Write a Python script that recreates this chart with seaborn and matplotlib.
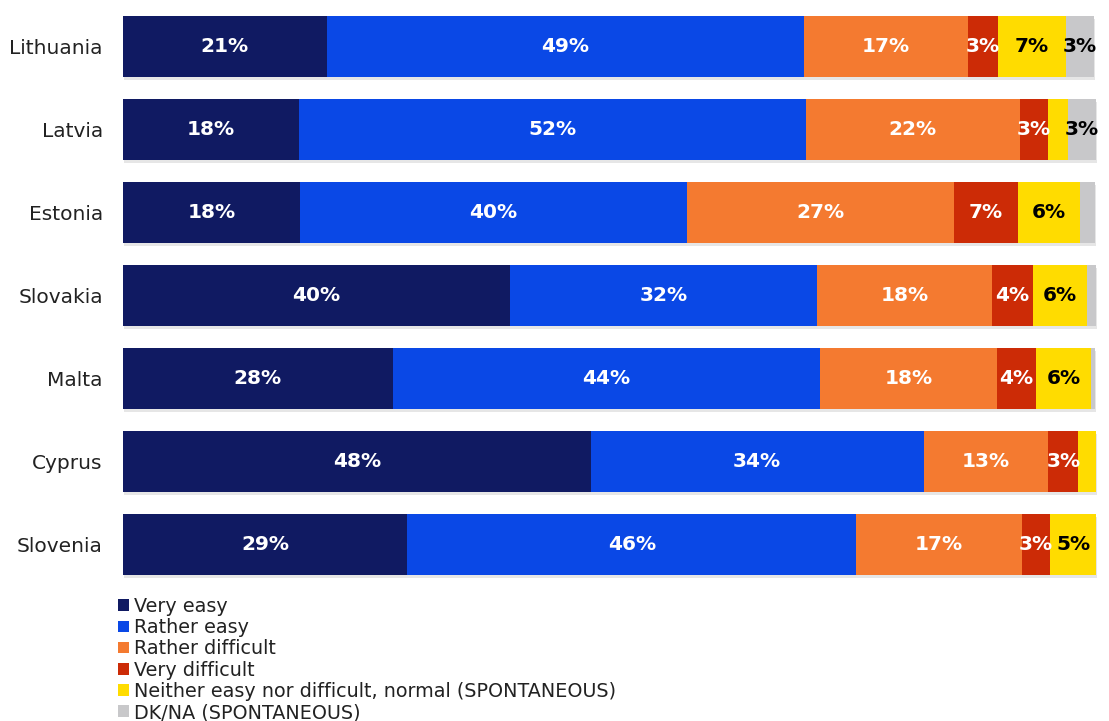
import numpy as np
import pandas as pd
import matplotlib
matplotlib.use("Agg")
import matplotlib.pyplot as plt
import matplotlib.patheffects as pe
from matplotlib.patches import Patch
import seaborn as sns

countries = ["Lithuania", "Latvia", "Estonia", "Slovakia", "Malta", "Cyprus", "Slovenia"]
categories = [
    "Very easy",
    "Rather easy",
    "Rather difficult",
    "Very difficult",
    "Neither easy nor difficult, normal (SPONTANEOUS)",
    "DK/NA (SPONTANEOUS)",
]
very_easy        = [20.9, 18.1, 18.2, 39.7, 27.7, 48.0, 29.2]
rather_easy      = [49.0, 52.0, 39.7, 31.6, 43.9, 34.2, 46.1]
rather_difficult = [16.9, 22.0, 27.4, 17.9, 18.1, 12.8, 17.0]
very_difficult   = [3.0, 2.9, 6.6, 4.2, 4.0, 3.1, 2.9]
neither          = [7.0, 2.0, 6.4, 5.6, 5.7, 1.8, 4.7]
dk_na            = [2.9, 2.9, 1.5, 0.9, 0.4, 0.0, 0.0]

colors = ["#101A62", "#0A48E6", "#F47A30", "#CC2B06", "#FFDC00", "#C8C8CA"]
label_colors = ["white", "white", "white", "white", "black", "black"]

series = [very_easy, rather_easy, rather_difficult, very_difficult, neither, dk_na]
df = pd.DataFrame({c: s for c, s in zip(categories, series)}, index=countries)
cum = df.cumsum(axis=1)

sns.set_theme(style="white")
plt.rcParams["font.family"] = ["DejaVu Sans"]

fig = plt.figure(figsize=(11.09, 7.21), dpi=100)
ax = fig.add_axes([123 / 1109, 135 / 721, 974 / 1109, 581 / 721])

bar_w = 0.735
# stacked bars: draw cumulative totals from the outermost layer inward
for i in range(len(categories) - 1, -1, -1):
    d = pd.DataFrame({"country": countries, "value": cum[categories[i]].values})
    sns.barplot(data=d, x="value", y="country", orient="h", color=colors[i],
                width=bar_w, saturation=1, linewidth=0, ax=ax, order=countries)
    if i == len(categories) - 1:
        for p in ax.patches:
            p.set_path_effects([pe.SimplePatchShadow(offset=(0.5, -2.5), shadow_rgbFace="#b8b8b8", alpha=0.35),
                                pe.Normal()])

# value labels
for r, country in enumerate(countries):
    left = 0.0
    for i, cat in enumerate(categories):
        v = df.loc[country, cat]
        if v >= 2.5:
            ax.text(left + v / 2, r, f"{round(v):.0f}%", ha="center", va="center",
                    color=label_colors[i], fontsize=14.5, fontweight="bold")
        left += v

ax.set_xlim(0, 100)
ax.set_ylim(6.5, -0.5)
ax.set_xlabel("")
ax.set_ylabel("")
ax.set_xticks([])
ax.tick_params(axis="y", length=0, pad=14.5, labelsize=14.5, labelcolor="#222222")
for s in ax.spines.values():
    s.set_visible(False)

handles = [Patch(facecolor=c, edgecolor="none") for c in colors]
fig.legend(handles, categories, loc="upper left", bbox_to_anchor=(118 / 1109, 1 - 597 / 721),
           frameon=False, fontsize=13.8, handlelength=0.55, handleheight=0.55,
           handletextpad=0.3, labelspacing=0.115, borderaxespad=0, borderpad=0,
           labelcolor="#222222")

fig.savefig("out.png", dpi=100)
